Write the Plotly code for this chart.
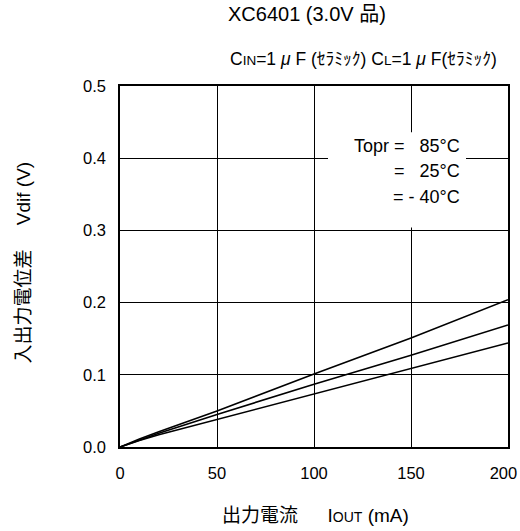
import plotly.graph_objects as go

# Output current (mA) and dropout voltage Vdif (V) per operating temperature
iout = [0, 5, 10, 20, 50, 100, 150, 200]
vdif_85 = [0.0, 0.006, 0.011, 0.021, 0.050, 0.101, 0.151, 0.204]
vdif_25 = [0.0, 0.005, 0.010, 0.019, 0.045, 0.087, 0.127, 0.169]
vdif_m40 = [0.0, 0.005, 0.009, 0.017, 0.038, 0.073, 0.108, 0.144]

x_ticks = [0, 50, 100, 150, 200]
x_tick_text = ["0", "50", "100", "150", "200"]
y_ticks = [0.0, 0.1, 0.2, 0.3, 0.4, 0.5]
y_tick_text = ["0.0", "0.1", "0.2", "0.3", "0.4", "0.5"]

FONT = "Liberation Sans, Arial, Noto Sans CJK JP, sans-serif"

fig = go.Figure()
for ys in (vdif_85, vdif_25, vdif_m40):
    fig.add_trace(go.Scatter(x=iout, y=ys, mode="lines",
                             line=dict(color="black", width=1.6),
                             showlegend=False, hoverinfo="skip"))

axis_common = dict(showgrid=True, gridcolor="black", gridwidth=1,
                   showline=True, linecolor="black", linewidth=1.5, mirror=True,
                   zeroline=False, ticks="", automargin=False,
                   ticklabeloverflow="allow",
                   tickfont=dict(size=16.5, color="black", family=FONT))

# nudge the last x label left so it stays inside the page
x_labels = x_tick_text[:-1] + [x_tick_text[-1] + "\u00a0\u00a0"]
fig.update_xaxes(range=[0, 200], tickvals=x_ticks, ticktext=x_labels,
                 ticklabelstandoff=10, **axis_common)
fig.update_yaxes(range=[0, 0.5], tickvals=y_ticks, ticktext=y_tick_text,
                 ticklabelstandoff=9, **axis_common)

# White panel holding the temperature key, drawn over the grid
fig.add_shape(type="rect", xref="paper", yref="paper",
              x0=(328 - 120) / 388, x1=(466 - 120) / 388,
              y0=(447 - 228) / 360, y1=(447 - 133) / 360,
              fillcolor="white", line=dict(width=0), layer="above")

key_lines = [("Topr =   85°C", 147), ("=   25°C", 172), ("= - 40°C", 198)]
for txt, py in key_lines:
    fig.add_annotation(text=txt, xref="paper", yref="paper",
                       x=(462 - 120) / 388, y=(447 - py) / 360,
                       xanchor="right", yanchor="middle", showarrow=False,
                       font=dict(size=18, color="black", family=FONT))

fig.add_annotation(text="XC6401 (3.0V 品)", xref="paper", yref="paper",
                   x=(307 - 120) / 388, y=(447 - 15) / 360,
                   xanchor="center", yanchor="middle", showarrow=False,
                   font=dict(size=20, color="black", family=FONT))
small = "<span style='font-size:13.5px'>"
fig.add_annotation(text="C" + small + "IN</span>=1 <i>μ</i> F (ｾﾗﾐｯｸ) C" + small
                   + "L</span>=1 <i>μ</i> F(ｾﾗﾐｯｸ)",
                   xref="paper", yref="paper",
                   x=(363 - 120) / 388, y=(447 - 60) / 360,
                   xanchor="center", yanchor="middle", showarrow=False,
                   font=dict(size=17.5, color="black", family=FONT))
fig.add_annotation(text="出力電流　  I" + "<span style='font-size:14px'>OUT</span> (mA)",
                   xref="paper", yref="paper",
                   x=(315 - 120) / 388, y=(447 - 515) / 360,
                   xanchor="center", yanchor="middle", showarrow=False,
                   font=dict(size=19, color="black", family=FONT))
fig.add_annotation(text="入出力電位差　 Vdif (V)", xref="paper", yref="paper",
                   x=(23 - 120) / 388, y=(447 - 263) / 360, textangle=-90,
                   xanchor="center", yanchor="middle", showarrow=False,
                   font=dict(size=19, color="black", family=FONT))

fig.update_layout(width=520, height=531,
                  margin=dict(l=120, r=12, t=86, b=84),
                  paper_bgcolor="white", plot_bgcolor="white",
                  font=dict(family=FONT, color="black"))

fig.write_html("out.html")
